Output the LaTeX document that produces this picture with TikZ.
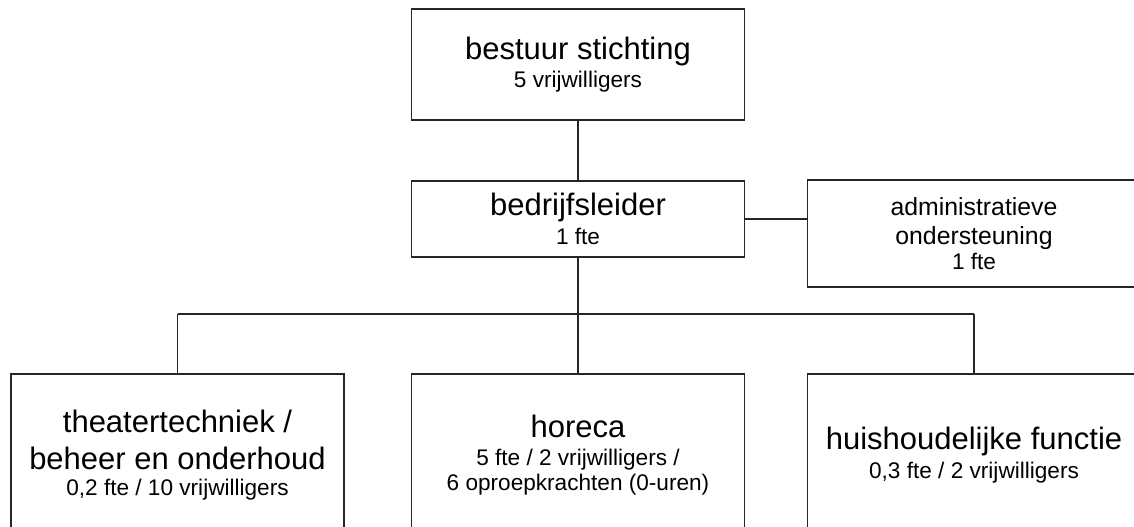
\documentclass[tikz,border=0pt]{standalone}
\usepackage{fontspec}
\setmainfont{Liberation Sans}
\newcommand{\mainsize}{\fontsize{15.5}{18.5}\selectfont}
\newcommand{\subsize}{\fontsize{11.3}{12.8}\selectfont}
\newcommand{\adminsize}{\fontsize{12.4}{14.5}\selectfont}
\tikzset{
  unit/.style={draw=black!85, line width=0.9pt, minimum width=166.5pt, align=center, inner sep=0pt, font=\subsize},
  link/.style={draw=black!85, line width=0.9pt},
}
\begin{document}
\begin{tikzpicture}[x=0.5pt, y=-0.5pt]
    \useasboundingbox (0,0) rectangle (1134,526);
    \clip (0,0) rectangle (1134,526);
    \node[unit, minimum height=55.5pt] (bestuur) at (578,64.5) {{\mainsize bestuur stichting}\\[1.5pt] 5 vrijwilligers};
    \node[unit, minimum height=38pt] (leider) at (578,219) {{\mainsize bedrijfsleider}\\[1.5pt] 1 fte};
    \node[unit, minimum height=53.5pt] (admin) at (974,233.5) {{\adminsize administratieve}\\[1.7pt] {\adminsize ondersteuning}\\ 1 fte};
    \node[unit, minimum height=81pt] (theater) at (177.5,455) {{\mainsize theatertechniek /}\\[5.7pt] {\mainsize beheer en onderhoud}\\ 0,2 fte / 10 vrijwilligers};
    \node[unit, minimum height=81pt] (horeca) at (578,455) {{\mainsize horeca}\\[1.2pt] 5 fte / 2 vrijwilligers /\\ 6 oproepkrachten (0-uren)};
    \node[unit, minimum height=81pt] (huis) at (974,455) {{\mainsize huishoudelijke functie}\\[1.5pt] 0,3 fte / 2 vrijwilligers};
    \coordinate (bus) at (578,314);
    \draw[link] (bestuur.south) -- (leider.north);
    \draw[link] (leider.east) -- (leider.east -| admin.west);
    \draw[link] (leider.south) -- (bus);
    \draw[link] (theater.north |- bus) -- (huis.north |- bus);
    \foreach \Box in {theater, horeca, huis}{
        \draw[link] (\Box.north |- bus) -- (\Box.north);
    }
\end{tikzpicture}
\end{document}
